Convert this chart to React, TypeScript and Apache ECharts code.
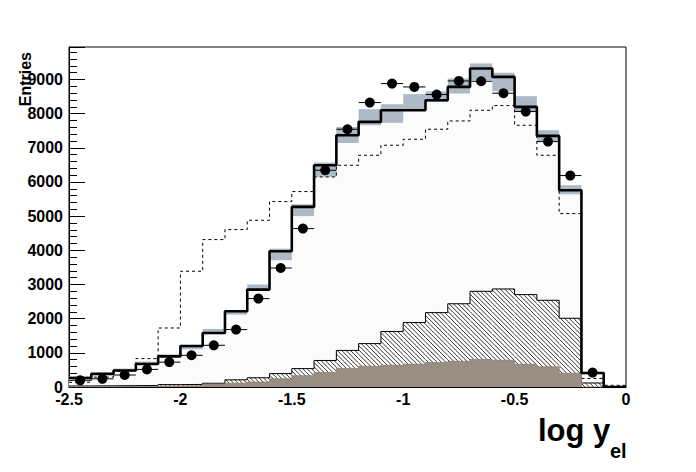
import React, { useEffect, useRef } from "react";
import * as echarts from "echarts";

// Bin lower edges (bin width 0.1), log y_el
const binStarts = [
  -2.5, -2.4, -2.3, -2.2, -2.1, -2.0, -1.9, -1.8, -1.7, -1.6, -1.5, -1.4, -1.3,
  -1.2, -1.1, -1.0, -0.9, -0.8, -0.7, -0.6, -0.5, -0.4, -0.3, -0.2, -0.1,
];
const binWidth = 0.1;

// Total MC (thick solid histogram)
const mcTotal = [
  263, 385, 485, 675, 895, 1200, 1580, 2215, 2850, 3972, 5270, 6490, 7368,
  7758, 8100, 8100, 8392, 8782, 9320, 9075, 8197, 7348, 5758, 410, 0,
];
// MC uncertainty band (grey)
const bandLow = [
  250, 370, 460, 665, 880, 1105, 1580, 2120, 2850, 3710, 5000, 6150, 7140,
  7660, 7730, 8100, 8340, 8590, 8980, 8655, 8050, 7190, 5640, 395, 0,
];
const bandHigh = [
  310, 420, 540, 745, 955, 1200, 1700, 2215, 3000, 4050, 5350, 6570, 7610,
  8130, 8275, 8570, 8655, 9030, 9470, 9200, 8510, 7515, 5905, 425, 0,
];
// Data points
const dataPoints = [
  196, 240, 350, 515, 728, 928, 1220, 1680, 2587, 3483, 4636, 6343, 7543,
  8324, 8880, 8781, 8558, 8957, 8948, 8597, 8061, 7182, 6188, 421,
];
// Dashed histogram
const dashedHist = [
  140, 290, 470, 831, 1727, 3387, 4314, 4607, 4879, 5427, 5719, 6147, 6489,
  6782, 7075, 7250, 7543, 7786, 8099, 8236, 7660, 6782, 5075, 250, 50,
];
// Hatched component
const hatchedHist = [
  30, 35, 40, 45, 70, 75, 110, 210, 270, 392, 538, 776, 1070, 1270, 1625,
  1885, 2177, 2436, 2801, 2869, 2704, 2538, 2011, 117, 0,
];
// Filled (brown) component
const brownHist = [
  5, 10, 15, 20, 30, 35, 85, 110, 146, 240, 330, 421, 538, 606, 635, 664,
  714, 752, 802, 781, 664, 590, 405, 0, 0,
];

const xTickLabels = ["-2.5", "-2", "-1.5", "-1", "-0.5", "0"];

const FONT = '"Liberation Sans", Arial, sans-serif';

function stepData(vals: number[]) {
  const d: number[][] = vals.map((v, i) => [binStarts[i], v]);
  d.push([binStarts[binStarts.length - 1] + binWidth, vals[vals.length - 1]]);
  return d;
}

export default function App() {
  const ref = useRef<HTMLDivElement>(null);
  useEffect(() => {
    if (!ref.current) return;
    const chart = echarts.init(ref.current, null, { renderer: "svg" });

    const hatchData = hatchedHist.map((v, i) => [binStarts[i], binStarts[i] + binWidth, v]);
    const bandData = bandLow.map((lo, i) => [binStarts[i], binStarts[i] + binWidth, lo, bandHigh[i]]);
    const pointData = dataPoints.map((v, i) => [binStarts[i] + binWidth / 2, v]);

    const option: any = {
      animation: false,
      grid: {
        left: 69,
        top: 47,
        right: 70,
        bottom: 85,
        show: true,
        borderColor: "#000",
        borderWidth: 1,
        backgroundColor: "transparent",
      },
      xAxis: {
        type: "value",
        min: -2.5,
        max: 0,
        interval: 0.5,
        axisLine: { show: true, onZero: false, lineStyle: { color: "#000", width: 1 } },
        axisTick: { show: false },
        splitLine: { show: false },
        axisLabel: {
          color: "#000",
          fontFamily: FONT,
          fontWeight: "bold",
          fontSize: 16,
          margin: 4,
          formatter: (v: number) => {
            const idx = Math.round((v + 2.5) / 0.5);
            return xTickLabels[idx] ?? "";
          },
        },
      },
      yAxis: {
        type: "value",
        min: 0,
        max: 9950,
        interval: 1000,
        axisLine: { show: true, onZero: false, lineStyle: { color: "#000", width: 1 } },
        axisTick: { show: true, inside: true, length: 16, lineStyle: { color: "#000" } },
        minorTick: { show: true, splitNumber: 5, length: 8, lineStyle: { color: "#000" } },
        splitLine: { show: false },
        minorSplitLine: { show: false },
        axisLabel: {
          color: "#000",
          fontFamily: FONT,
          fontWeight: "bold",
          fontSize: 16,
          margin: 6,
          formatter: (v: number) => (v % 1000 === 0 ? String(v) : ""),
        },
      },
      graphic: [
        {
          type: "text",
          x: 25,
          y: 52,
          rotation: Math.PI / 2,
          style: {
            text: "Entries",
            font: `bold 16px ${FONT}`,
            fill: "#000",
            align: "right",
            verticalAlign: "middle",
          },
        },
        {
          type: "text",
          x: 538,
          y: 430,
          style: {
            text: "log y",
            font: `bold 31px ${FONT}`,
            fill: "#000",
            align: "left",
            verticalAlign: "middle",
          },
        },
        {
          type: "text",
          x: 610,
          y: 451,
          style: {
            text: "el",
            font: `bold 20px ${FONT}`,
            fill: "#000",
            align: "left",
            verticalAlign: "middle",
          },
        },
      ],
      series: [
        {
          name: "mcFill",
          type: "line",
          step: "end",
          data: stepData(mcTotal),
          symbol: "none",
          lineStyle: { width: 0, color: "#fcfcfc" },
          areaStyle: { color: "#fbfbfb", opacity: 1 },
          z: 1,
        },
        {
          name: "band",
          type: "custom",
          data: bandData,
          encode: { x: [0, 1], y: [2, 3] },
          z: 2,
          renderItem: (params: any, api: any) => {
            const a = api.coord([api.value(0), api.value(3)]);
            const b = api.coord([api.value(1), api.value(2)]);
            return {
              type: "rect",
              shape: { x: a[0], y: a[1], width: b[0] - a[0], height: b[1] - a[1] },
              style: { fill: "#adb9c5" },
            };
          },
        },
        {
          name: "dashed",
          type: "line",
          step: "end",
          data: stepData(dashedHist),
          symbol: "none",
          lineStyle: { width: 1, color: "#000", type: [3, 3] },
          z: 3,
        },
        {
          name: "hatch",
          type: "custom",
          data: hatchData,
          encode: { x: [0, 1], y: 2 },
          z: 4,
          renderItem: (params: any, api: any) => {
            const p0 = api.coord([api.value(0), api.value(2)]);
            const p1 = api.coord([api.value(1), 0]);
            const left = p0[0], right = p1[0], top = p0[1], bottom = p1[1];
            const d = 4.4;
            const children: any[] = [
              {
                type: "rect",
                shape: { x: left, y: top, width: right - left, height: bottom - top },
                style: { fill: "#ffffff" },
              },
            ];
            const cMin = top - right;
            const cMax = bottom - left;
            for (let k = Math.ceil(cMin / d); k * d <= cMax; k++) {
              const c = k * d;
              const lo = Math.max(left, top - c);
              const hi = Math.min(right, bottom - c);
              if (hi > lo) {
                children.push({
                  type: "line",
                  shape: { x1: lo, y1: lo + c, x2: hi, y2: hi + c },
                  style: { stroke: "#000", lineWidth: 0.8 },
                });
              }
            }
            return { type: "group", children };
          },
        },
        {
          name: "hatchOutline",
          type: "line",
          step: "end",
          data: stepData(hatchedHist),
          symbol: "none",
          lineStyle: { width: 1, color: "#000" },
          z: 5,
        },
        {
          name: "brown",
          type: "line",
          step: "end",
          data: stepData(brownHist),
          symbol: "none",
          lineStyle: { width: 0.8, color: "#8a7e73" },
          areaStyle: { color: "#9a8e82", opacity: 1 },
          z: 6,
        },
        {
          name: "mcLine",
          type: "line",
          step: "end",
          data: stepData(mcTotal),
          symbol: "none",
          lineStyle: { width: 2.6, color: "#000" },
          z: 7,
        },
        {
          name: "errX",
          type: "custom",
          data: pointData,
          encode: { x: 0, y: 1 },
          z: 8,
          renderItem: (params: any, api: any) => {
            const x = api.value(0), v = api.value(1);
            const a = api.coord([x - binWidth / 2, v]);
            const b = api.coord([x + binWidth / 2, v]);
            return {
              type: "line",
              shape: { x1: a[0], y1: a[1], x2: b[0], y2: b[1] },
              style: { stroke: "#000", lineWidth: 1 },
            };
          },
        },
        {
          name: "data",
          type: "scatter",
          data: pointData,
          symbol: "circle",
          symbolSize: 10,
          itemStyle: { color: "#000", opacity: 1 },
          z: 9,
        },
      ],
    };
    chart.setOption(option);
    return () => chart.dispose();
  }, []);
  return (
    <div
      ref={ref}
      style={{ position: "absolute", left: 0, top: 0, width: 696, height: 472 }}
    />
  );
}
